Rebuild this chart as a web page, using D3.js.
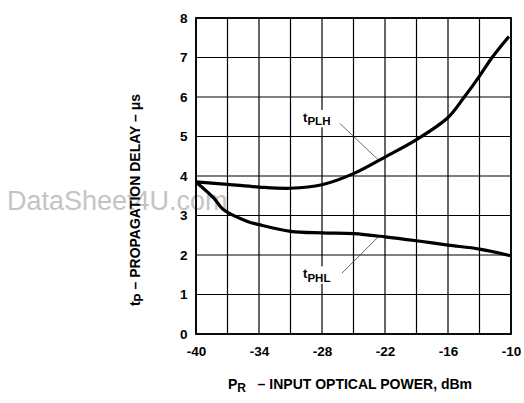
<!DOCTYPE html>
<html><head><meta charset="utf-8">
<script src="https://cdn.jsdelivr.net/npm/d3@7"></script>
<style>
body{margin:0;background:#fff;}
svg{display:block;font-family:Arial,"Liberation Sans",Helvetica,sans-serif;}
</style></head>
<body><svg id="c" width="524" height="403"></svg>
<script>
const xTicks = [-40, -34, -28, -22, -16, -10];
const xGrid = [-40,-37,-34,-31,-28,-25,-22,-19,-16,-13,-10];
const yTicks = [0,1,2,3,4,5,6,7,8];
const plhX = [-40, -37, -34, -31, -28, -25, -22, -19, -16, -14.5, -13.1, -11.8, -10.2];
const plhY = [3.85, 3.79, 3.72, 3.69, 3.78, 4.06, 4.48, 4.92, 5.48, 5.98, 6.49, 7.0, 7.53];
const phlX = [-40, -38.3, -37.4, -35.1, -34, -31, -28, -25, -22, -19, -16, -13, -10];
const phlY = [3.85, 3.44, 3.15, 2.85, 2.77, 2.60, 2.56, 2.54, 2.46, 2.36, 2.25, 2.15, 1.98];
const labels = [
  {main:"t", sub:"PLH", lx:-29.8, ly:5.37, from:[-26.3,5.33], to:[-22.64,4.41]},
  {main:"t", sub:"PHL", lx:-29.8, ly:1.41, from:[-26.1,1.54], to:[-22.64,2.46]}
];

const svg = d3.select("#c");
const L=196, R=511, T=18, B=334;
const x = d3.scaleLinear().domain([-40,-10]).range([L,R]);
const y = d3.scaleLinear().domain([0,8]).range([B,T]);
const fmt = d => String(d);

// watermark
svg.append("text").attr("x",7).attr("y",210).attr("font-size",27)
  .attr("fill","#c4c4c4").text("DataSheet4U.com");

// grid
const g = svg.append("g");
g.selectAll("line.v").data(xGrid).join("line")
  .attr("x1",d=>x(d)).attr("x2",d=>x(d)).attr("y1",T).attr("y2",B)
  .attr("stroke","#000").attr("stroke-width",1.2);
g.selectAll("line.h").data(yTicks).join("line")
  .attr("y1",d=>y(d)).attr("y2",d=>y(d)).attr("x1",L).attr("x2",R)
  .attr("stroke","#000").attr("stroke-width",1.2);
svg.append("rect").attr("x",L).attr("y",T).attr("width",R-L).attr("height",B-T)
  .attr("fill","none").attr("stroke","#000").attr("stroke-width",1.8);

// axes labels via d3 axes
const xa = svg.append("g").attr("transform",`translate(0,${B})`)
  .call(d3.axisBottom(x).tickValues(xTicks).tickSize(0).tickPadding(12).tickFormat(fmt));
const ya = svg.append("g").attr("transform",`translate(${L},0)`)
  .call(d3.axisLeft(y).tickValues(yTicks).tickSize(0).tickPadding(8.5).tickFormat(fmt));
[xa,ya].forEach(a=>{a.select(".domain").remove();
  a.selectAll("text").attr("font-size",13.5).attr("font-weight","bold").attr("fill","#000")
   .attr("font-family","Arial,'Liberation Sans',sans-serif");});

// curve labels (with white backing that hides grid lines)
labels.forEach(l=>{
  const bg = svg.append("rect").attr("fill","#fff");
  const t = svg.append("text").attr("x",x(l.lx)).attr("y",y(l.ly)).attr("font-weight","bold").attr("fill","#000");
  t.append("tspan").attr("font-size",13).text(l.main);
  t.append("tspan").attr("font-size",11.5).attr("dy",3.4).text(l.sub);
  const bb = t.node().getBBox();
  bg.attr("x",bb.x-1).attr("y",bb.y).attr("width",bb.width+2).attr("height",bb.height);
  svg.append("line").attr("x1",x(l.from[0])).attr("y1",y(l.from[1]))
    .attr("x2",x(l.to[0])).attr("y2",y(l.to[1])).attr("stroke","#444").attr("stroke-width",0.8);
});

// curves
const line = d3.line().x(d=>x(d[0])).y(d=>y(d[1])).curve(d3.curveCatmullRom.alpha(0.5));
svg.append("path").datum(plhX.map((v,i)=>[v,plhY[i]])).attr("d",line)
  .attr("fill","none").attr("stroke","#000").attr("stroke-width",3.2);
svg.append("path").datum(phlX.map((v,i)=>[v,phlY[i]])).attr("d",line)
  .attr("fill","none").attr("stroke","#000").attr("stroke-width",3.2);

// axis titles
const xt = svg.append("text").attr("x",350).attr("y",389).attr("text-anchor","middle")
  .attr("font-weight","bold").attr("font-size",14).attr("fill","#000").attr("xml:space","preserve")
  .style("white-space","pre");
xt.append("tspan").text("P");
xt.append("tspan").attr("font-size",12).attr("dy",3).text("R");
xt.append("tspan").attr("dy",-3).text("   – INPUT OPTICAL POWER, dBm");

const yt = svg.append("text").attr("transform","translate(139.5,200) rotate(-90)").attr("text-anchor","middle")
  .attr("font-weight","bold").attr("font-size",14).attr("fill","#000");
yt.append("tspan").text("t");
yt.append("tspan").attr("font-size",12).attr("dy",3).text("P");
yt.append("tspan").attr("dy",-3).text(" – PROPAGATION DELAY – μs");
</script></body></html>
